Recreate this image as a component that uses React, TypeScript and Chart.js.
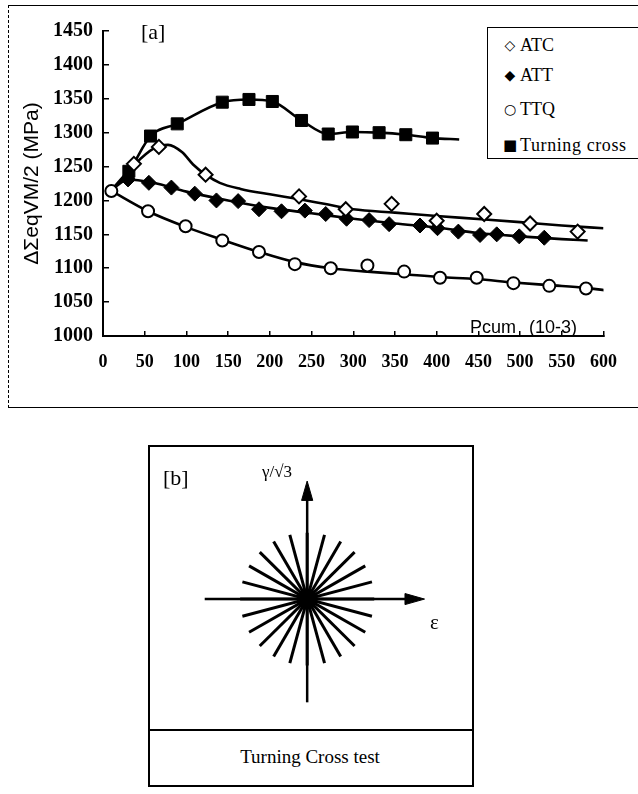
import React, { useEffect, useRef } from "react";
import { Chart, registerables } from "chart.js";

Chart.register(...registerables);

// ---------- Panel [a] data ----------
const xTicks = [0, 50, 100, 150, 200, 250, 300, 350, 400, 450, 500, 550, 600];
const yTicks = [1000, 1050, 1100, 1150, 1200, 1250, 1300, 1350, 1400, 1450];

// ATC (open diamonds) markers and fitted curve
const atcX = [37, 67, 123, 235, 291, 346, 400, 457, 512, 569];
const atcY = [1254, 1279, 1238, 1206, 1187, 1195, 1170, 1180, 1166, 1154];
const atcCurveX = [10, 37, 60, 78, 95, 108, 123, 140, 165, 200, 234, 265, 300, 350, 400, 458, 500, 550, 600];
const atcCurveY = [1215, 1252, 1276, 1282, 1271, 1253, 1238, 1226, 1217, 1209, 1202, 1195, 1187, 1182, 1177, 1172, 1168, 1163, 1159];

// ATT (filled diamonds) markers and fitted curve
const attX = [30, 55, 82, 110, 136, 162, 187, 214, 242, 267, 292, 319, 343, 380, 401, 426, 452, 472, 499, 529];
const attY = [1231, 1226, 1219, 1210, 1200, 1199, 1187, 1184, 1185, 1180, 1173, 1171, 1165, 1163, 1159, 1154, 1149, 1150, 1147, 1145];
const attCurveX = [10, 30, 60, 100, 150, 200, 250, 300, 350, 400, 450, 500, 550, 581];
const attCurveY = [1215, 1231, 1226, 1213, 1200, 1189, 1181, 1173, 1166, 1160, 1152, 1147, 1143, 1141];

// TTQ (open circles) markers and fitted curve
const ttqX = [10, 54, 99, 143, 187, 230, 273, 317, 361, 404, 448, 492, 535, 579];
const ttqY = [1214, 1184, 1162, 1141, 1124, 1106, 1100, 1104, 1095, 1086, 1086, 1078, 1074, 1070];
const ttqCurveX = [10, 54, 99, 143, 187, 230, 273, 317, 361, 404, 448, 492, 535, 579, 605];
const ttqCurveY = [1214, 1184, 1161, 1142, 1124, 1109, 1100, 1095, 1091, 1087, 1084, 1079, 1075, 1071, 1067];

// Turning cross (filled squares) markers and curve
const tcX = [31, 57, 89, 143, 175, 203, 238, 270, 299, 331, 363, 395];
const tcY = [1243, 1295, 1313, 1345, 1349, 1346, 1318, 1298, 1301, 1300, 1297, 1292];
const tcCurveX = [10, 31, 57, 89, 143, 175, 203, 238, 270, 299, 331, 363, 395, 427];
const tcCurveY = [1215, 1243, 1295, 1313, 1345, 1349, 1346, 1318, 1298, 1301, 1300, 1297, 1292, 1290];

// ---------- Panel [b] data ----------
const spokeAngles = [0, 15, 30, 45, 60, 75, 90, 105, 120, 135, 150, 165];
const spokeRadius = [72];
const hAxisX = [-110, 110];
const vAxisY = [-112, 112];
const hArrowTip = [126];
const vArrowTip = [128];

const pts = (xs: number[], ys: number[]) => xs.map((x, i) => ({ x, y: ys[i] }));

const serif = "'Liberation Serif', 'Times New Roman', serif";
const sans = "'Liberation Sans', Arial, sans-serif";

function ChartA() {
  const ref = useRef<HTMLCanvasElement | null>(null);
  useEffect(() => {
    if (!ref.current) return;
    const curve = (xs: number[], ys: number[]) => ({
      data: pts(xs, ys),
      showLine: true,
      borderColor: "#000",
      borderWidth: 2.6,
      pointRadius: 0,
      cubicInterpolationMode: "monotone" as const,
      order: 2,
    });
    const chart = new Chart(ref.current, {
      type: "scatter",
      data: {
        datasets: [
          { label: "ATC curve", ...curve(atcCurveX, atcCurveY) },
          { label: "ATT curve", ...curve(attCurveX, attCurveY) },
          { label: "TTQ curve", ...curve(ttqCurveX, ttqCurveY) },
          { label: "Turning cross curve", ...curve(tcCurveX, tcCurveY) },
          {
            label: "ATC",
            data: pts(atcX, atcY),
            pointStyle: "rectRot",
            pointRadius: 7,
            backgroundColor: "#fff",
            borderColor: "#000",
            borderWidth: 2,
            order: 1,
          },
          {
            label: "ATT",
            data: pts(attX, attY),
            pointStyle: "rectRot",
            pointRadius: 7.5,
            backgroundColor: "#000",
            borderColor: "#000",
            borderWidth: 1,
            order: 1,
          },
          {
            label: "TTQ",
            data: pts(ttqX, ttqY),
            pointStyle: "circle",
            pointRadius: 6,
            backgroundColor: "#fff",
            borderColor: "#000",
            borderWidth: 2,
            order: 1,
          },
          {
            label: "Turning cross",
            data: pts(tcX, tcY),
            pointStyle: "rect",
            pointRadius: 8.5,
            backgroundColor: "#000",
            borderColor: "#000",
            borderWidth: 1,
            order: 1,
          },
        ],
      },
      options: {
        animation: false,
        responsive: false,
        maintainAspectRatio: false,
        layout: { padding: { top: 31, right: 32, left: 0, bottom: 0 } },
        plugins: { legend: { display: false }, tooltip: { enabled: false } },
        scales: {
          x: {
            type: "linear",
            min: 0,
            max: 600,
            afterBuildTicks: (s: any) => {
              s.ticks = xTicks.map((v) => ({ value: v }));
            },
            afterFit: (s: any) => {
              s.height = 64;
            },
            ticks: {
              autoSkip: false,
              maxRotation: 0,
              color: "#000",
              padding: 21,
              callback: (v: any) => String(v),
              font: { family: serif, weight: "bold", size: 18 },
            },
            grid: {
              drawOnChartArea: false,
              drawTicks: true,
              tickLength: -5,
              color: "#000",
              lineWidth: 1.5,
            },
            border: { display: true, color: "#000", width: 2 },
          },
          y: {
            type: "linear",
            min: 1000,
            max: 1450,
            afterBuildTicks: (s: any) => {
              s.ticks = yTicks.map((v) => ({ value: v }));
            },
            afterFit: (s: any) => {
              s.width = 103;
            },
            ticks: {
              autoSkip: false,
              color: "#000",
              padding: 16,
              callback: (v: any) => String(v),
              font: { family: serif, weight: "bold", size: 20 },
            },
            grid: {
              drawOnChartArea: false,
              drawTicks: true,
              tickLength: -6,
              color: "#000",
              lineWidth: 1.5,
            },
            border: { display: true, color: "#000", width: 2 },
            title: {
              display: true,
              text: "ΔΣeqVM/2 (MPa)",
              color: "#000",
              font: { family: sans, size: 21 },
              padding: { top: 20, bottom: 0 },
            },
          },
        },
      },
    });
    return () => chart.destroy();
  }, []);
  return (
    <canvas
      ref={ref}
      width={638}
      height={400}
      style={{ position: "absolute", left: 0, top: 0, width: 638, height: 400 }}
    />
  );
}

function ChartB() {
  const ref = useRef<HTMLCanvasElement | null>(null);
  useEffect(() => {
    if (!ref.current) return;
    const r = spokeRadius[0];
    const spokes = spokeAngles.map((a) => {
      const rad = (a * Math.PI) / 180;
      return {
        data: [
          { x: r * Math.cos(rad), y: r * Math.sin(rad) },
          { x: -r * Math.cos(rad), y: -r * Math.sin(rad) },
        ],
        showLine: true,
        borderColor: "#000",
        borderWidth: 3,
        pointRadius: 0,
      };
    });
    const ht = hArrowTip[0];
    const vt = vArrowTip[0];
    const chart = new Chart(ref.current, {
      type: "scatter",
      data: {
        datasets: [
          ...spokes,
          {
            data: [{ x: hAxisX[0], y: 0 }, { x: hAxisX[1], y: 0 }],
            showLine: true,
            borderColor: "#000",
            borderWidth: 2.5,
            pointRadius: 0,
          },
          {
            data: [{ x: 0, y: vAxisY[0] }, { x: 0, y: vAxisY[1] }],
            showLine: true,
            borderColor: "#000",
            borderWidth: 2.5,
            pointRadius: 0,
          },
          {
            data: [
              { x: ht - 21, y: 6 },
              { x: ht, y: 0 },
              { x: ht - 21, y: -6 },
              { x: ht - 21, y: 6 },
            ],
            showLine: true,
            fill: "shape",
            backgroundColor: "#000",
            borderColor: "#000",
            borderWidth: 1,
            pointRadius: 0,
          },
          {
            data: [
              { x: -6, y: vt - 21 },
              { x: 0, y: vt },
              { x: 6, y: vt - 21 },
              { x: -6, y: vt - 21 },
            ],
            showLine: true,
            fill: "shape",
            backgroundColor: "#000",
            borderColor: "#000",
            borderWidth: 1,
            pointRadius: 0,
          },
          {
            data: [{ x: 0, y: 0 }],
            pointRadius: 10,
            backgroundColor: "#000",
            borderColor: "#000",
          },
        ],
      },
      options: {
        animation: false,
        responsive: false,
        maintainAspectRatio: false,
        layout: { padding: 0 },
        plugins: { legend: { display: false }, tooltip: { enabled: false } },
        scales: {
          x: { type: "linear", min: -158, max: 163, display: false },
          y: { type: "linear", min: -129, max: 153, display: false },
        },
      },
    });
    return () => chart.destroy();
  }, []);
  return (
    <canvas
      ref={ref}
      width={321}
      height={282}
      style={{ position: "absolute", left: 149, top: 447, width: 321, height: 282 }}
    />
  );
}

const abs = (s: React.CSSProperties): React.CSSProperties => ({ position: "absolute", ...s });

export default function App() {
  const legendRow = (sym: string, label: string, top: number, symSize: number, ls = 0) => (
    <div style={abs({ left: 500, top, height: 22, display: "flex", alignItems: "center", whiteSpace: "nowrap" })}>
      <span style={{ fontFamily: "'DejaVu Sans', sans-serif", fontSize: symSize, width: 20, textAlign: "center", lineHeight: 1 }}>{sym}</span>
      <span style={{ fontFamily: serif, fontSize: 18, letterSpacing: ls, lineHeight: 1 }}>{label}</span>
    </div>
  );
  return (
    <div style={abs({ left: 0, top: 0, width: 638, height: 794, overflow: "hidden", background: "#fff", color: "#000" })}>
      {/* panel a frame */}
      <div style={abs({ left: 8, top: 5, width: 640, height: 401, borderTop: "1.5px solid #000", borderLeft: "1.5px dashed #000", borderBottom: "1.5px solid #000" })} />
      <ChartA />
      <div style={abs({ left: 141, top: 20, fontFamily: serif, fontSize: 22, lineHeight: "24px" })}>[a]</div>
      <div style={abs({ left: 470, top: 318, fontFamily: sans, fontSize: 18, lineHeight: "18px", wordSpacing: 8, whiteSpace: "nowrap" })}>Pcum (10-3)</div>
      {/* legend */}
      <div style={abs({ left: 487, top: 27, width: 170, height: 130, border: "1.5px solid #000", background: "#fff" })} />
      {legendRow("◇", "ATC", 34, 14)}
      {legendRow("◆", "ATT", 64, 14)}
      {legendRow("○", "TTQ", 98, 14)}
      {legendRow("■", "Turning cross", 134, 15, 0.6)}

      {/* panel b */}
      <div style={abs({ left: 148, top: 445, width: 322, height: 338, border: "2px solid #000" })} />
      <div style={abs({ left: 148, top: 729, width: 324, height: 0, borderTop: "2px solid #000" })} />
      <ChartB />
      <div style={abs({ left: 163, top: 466, fontFamily: serif, fontSize: 22, lineHeight: "24px" })}>[b]</div>
      <div style={abs({ left: 262, top: 462, fontFamily: serif, fontSize: 17, lineHeight: "20px" })}>γ/√3</div>
      <div style={abs({ left: 430, top: 610, fontFamily: serif, fontSize: 21, lineHeight: "24px" })}>ε</div>
      <div style={abs({ left: 148, top: 746, width: 324, textAlign: "center", fontFamily: serif, fontSize: 19, lineHeight: "22px" })}>Turning Cross test</div>
    </div>
  );
}
